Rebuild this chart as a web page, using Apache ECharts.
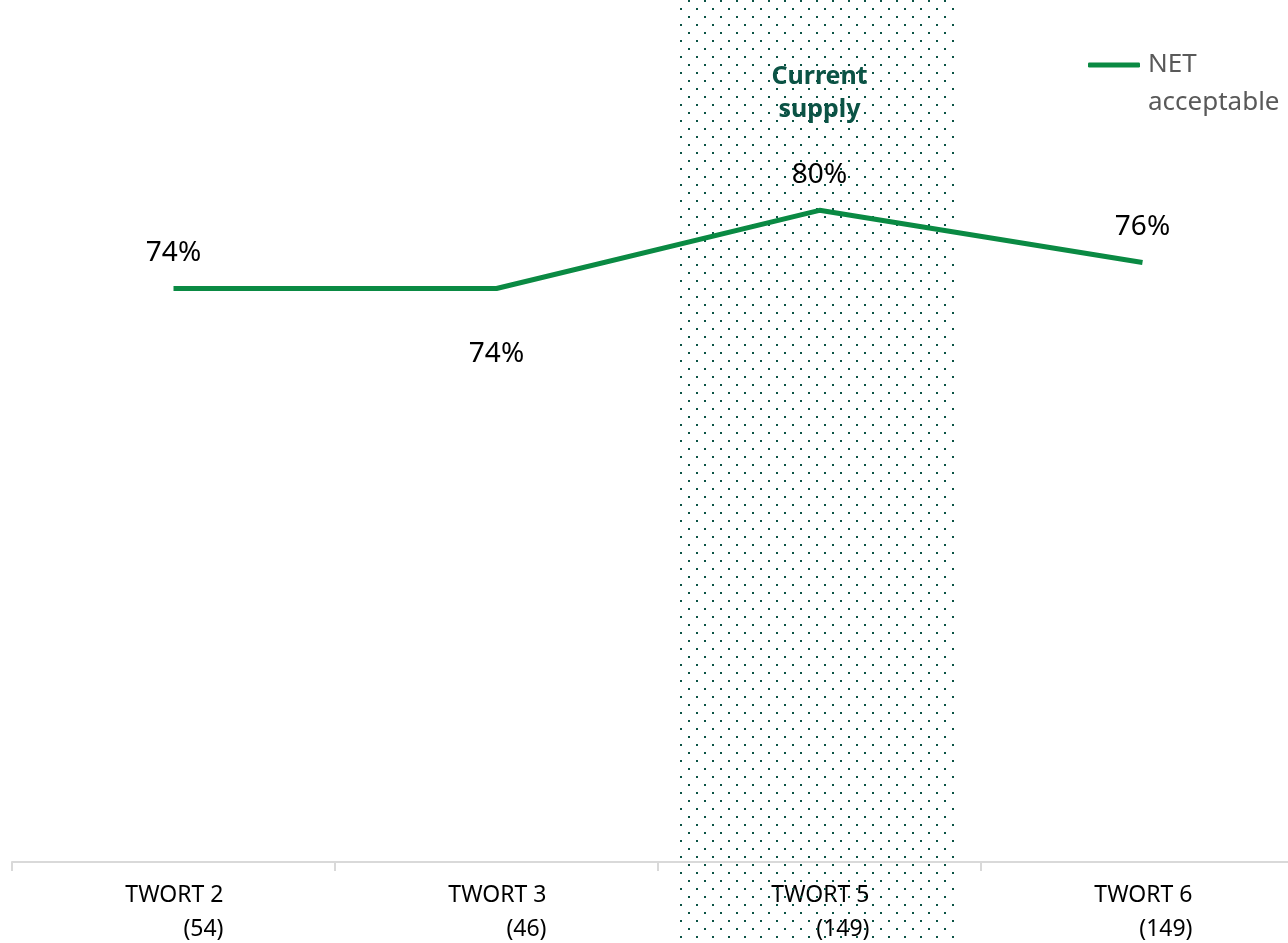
<!DOCTYPE html>
<html>
<head>
<meta charset="utf-8">
<script src="https://cdn.jsdelivr.net/npm/echarts@6/dist/echarts.min.js"></script>
<style>
  html, body { margin: 0; padding: 0; background: #fff; }
  #chart { width: 1288px; height: 943px; }
</style>
</head>
<body>
<div id="chart"></div>
<script>
// data
const categories = ['TWORT 2', 'TWORT 3', 'TWORT 5', 'TWORT 6'];
const sampleSizes = [54, 46, 149, 149];
const netAcceptable = [74, 74, 80, 76];
const labelBelow = [false, true, false, false];
const currentSupply = [null, null, 1, null];

const FONT = '"Noto Sans", sans-serif';
const GREEN = '#0a8a43';

// small dotted tile for the "current supply" band
const makeDots = () => {
    const c = document.createElement('canvas');
    c.width = 16; c.height = 16;
    const ctx = c.getContext('2d');
    ctx.fillStyle = '#0b5345';
    ctx.fillRect(0, 0, 2, 2);
    ctx.fillRect(8, 8, 2, 2);
    return c;
};

const chart = echarts.init(document.getElementById('chart'));

chart.setOption({
    animation: false,
    grid: [
        { left: 12, width: 1292, top: 80, bottom: 81, outerBoundsMode: 'none' },
        { left: 12, width: 1292, top: 0, bottom: 0, outerBoundsMode: 'none' }
    ],
    legend: {
        left: 1088,
        top: 8,
        padding: 0,
        itemWidth: 52,
        itemHeight: 5,
        icon: 'roundRect',
        data: ['NET acceptable'],
        // empty first line so "NET" sits level with the line icon
        formatter: () => '\nNET\nacceptable',
        itemStyle: { color: GREEN, opacity: 1 },
        textStyle: { color: '#595959', fontSize: 26, fontFamily: FONT, lineHeight: 38, padding: [0, 0, 0, 3] }
    },
    xAxis: [
        {
            type: 'category',
            data: categories,
            gridIndex: 0,
            boundaryGap: true,
            axisLine: { lineStyle: { color: '#d9d9d9', width: 2 } },
            axisTick: { show: true, interval: 0, length: 9, lineStyle: { color: '#d9d9d9', width: 2 } },
            axisLabel: {
                interval: 0,
                margin: 16,
                formatter: (v, i) => '{a|' + v + '}\n{b|(' + sampleSizes[i] + ')}',
                rich: {
                    a: { width: 100, align: 'right', fontSize: 23, fontFamily: FONT, color: '#000', lineHeight: 34 },
                    b: { width: 100, align: 'right', fontSize: 23, fontFamily: FONT, color: '#000', lineHeight: 34 }
                }
            }
        },
        {
            type: 'category',
            data: categories,
            gridIndex: 1,
            show: false
        }
    ],
    yAxis: [
        { type: 'value', gridIndex: 0, min: 30, max: 90, show: false, splitLine: { show: false } },
        { type: 'value', gridIndex: 1, min: 0, max: 1, show: false, splitLine: { show: false } }
    ],
    series: [
        {
            name: 'band',
            type: 'bar',
            xAxisIndex: 1,
            yAxisIndex: 1,
            barWidth: 280,
            z: 1,
            silent: true,
            itemStyle: { color: { image: makeDots(), repeat: 'repeat' } },
            label: {
                show: true,
                position: 'insideTop',
                distance: 60,
                formatter: 'Current\nsupply',
                color: '#0b5345',
                fontWeight: 'bold',
                fontSize: 25,
                lineHeight: 33,
                fontFamily: FONT
            },
            data: currentSupply
        },
        {
            name: 'NET acceptable',
            type: 'line',
            z: 5,
            symbol: 'circle',
            symbolSize: 1,
            showSymbol: true,
            itemStyle: { color: 'rgba(0,0,0,0)' },
            lineStyle: { width: 5, color: GREEN },
            label: {
                show: true,
                position: 'top',
                distance: 21,
                formatter: '{c}%',
                color: '#000',
                fontSize: 28,
                fontFamily: FONT
            },
            data: netAcceptable.map((v, i) => labelBelow[i]
                ? { value: v, label: { position: 'bottom', distance: 51 } }
                : v)
        }
    ]
});
</script>
</body>
</html>
